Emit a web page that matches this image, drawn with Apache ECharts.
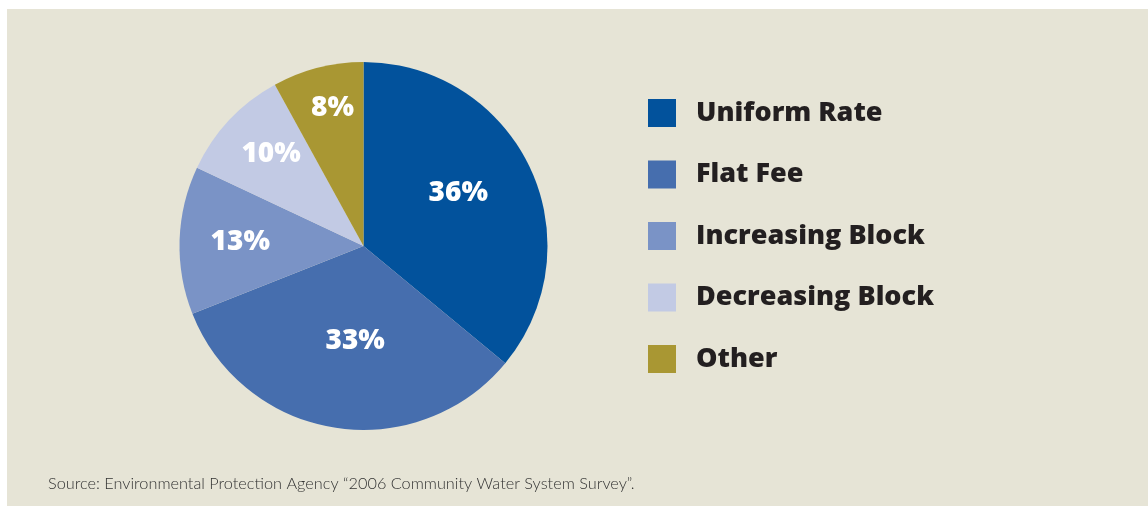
<!DOCTYPE html>
<html>
<head>
<meta charset="utf-8">
<script src="https://cdn.jsdelivr.net/npm/echarts@6/dist/echarts.min.js"></script>
<style>
html,body{margin:0;padding:0;background:#ffffff;}
#chart{position:absolute;left:7px;top:9px;width:1141px;height:497px;}
</style>
</head>
<body>
<div id="chart"></div>
<script>
// ---- data ----
const categories = ['Uniform Rate', 'Flat Fee', 'Increasing Block', 'Decreasing Block', 'Other'];
const values = [36, 33, 13, 10, 8];
const sourceText = 'Source: Environmental Protection Agency \u201C2006 Community Water System Survey\u201D.';

// ---- styling ----
const colors = ['#02529C', '#466EAE', '#7A93C6', '#C2CAE4', '#A99733'];
const CX = 356.5, CY = 237, R = 184;
const labelRadiusFrac = [0.59, 0.52, 0.67, 0.71, 0.77];
const labelAngleShift = [-4, -4, 0, 1.8, 1.8]; // degrees, clockwise

const chart = echarts.init(document.getElementById('chart'), null, {renderer: 'canvas'});
chart.setOption({
  backgroundColor: '#E6E4D6',
  animation: false,
  color: colors,
  title: {
    text: sourceText,
    left: 36,
    top: 462,
    textStyle: {fontFamily: 'Lato', fontWeight: 300, fontSize: 16.3, color: '#333333'}
  },
  legend: {
    orient: 'vertical',
    left: 636,
    top: 83,
    itemWidth: 28,
    itemHeight: 28,
    itemGap: 29.5,
    icon: 'rect',
    data: categories,
    textStyle: {fontFamily: 'Open Sans', fontWeight: 800, fontSize: 27, color: '#231F20', lineHeight: 28, padding: [4, 0, 0, 15]},
    selectedMode: false
  },
  series: [{
    type: 'pie',
    center: [CX, CY],
    radius: [0, R],
    startAngle: 90,
    clockwise: true,
    silent: true,
    data: categories.map((c, i) => ({name: c, value: values[i]})),
    label: {
      show: true,
      position: 'inside',
      formatter: p => p.value + '%',
      color: '#ffffff',
      fontFamily: 'Open Sans',
      fontWeight: 800,
      fontSize: 28
    },
    labelLine: {show: false},
    labelLayout: function (p) {
      const r = p.labelRect;
      const lx = r.x + r.width / 2, ly = r.y + r.height / 2;
      const dx = lx - CX, dy = ly - CY;
      // angle measured clockwise from top
      const a = Math.atan2(dx, -dy) + labelAngleShift[p.dataIndex] * Math.PI / 180;
      const d = labelRadiusFrac[p.dataIndex] * R;
      return {x: CX + Math.sin(a) * d, y: CY - Math.cos(a) * d, align: 'center', verticalAlign: 'middle'};
    },
    itemStyle: {borderWidth: 0}
  }]
});
</script>
</body>
</html>
